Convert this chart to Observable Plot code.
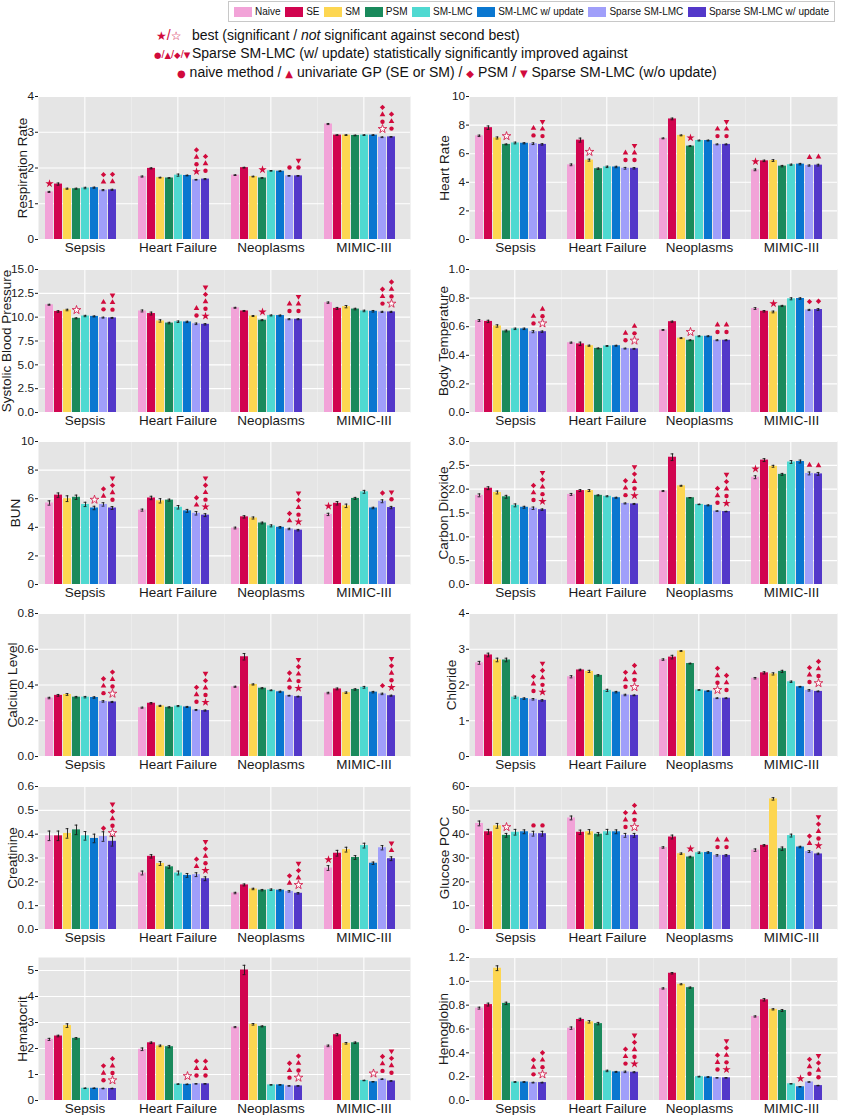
<!DOCTYPE html>
<html><head><meta charset="utf-8">
<script src="https://cdn.jsdelivr.net/npm/d3@7"></script>
<script src="https://cdn.jsdelivr.net/npm/@observablehq/plot@0.6"></script>
<style>
body{margin:0;background:#fff;font-family:"Liberation Sans",Arial,sans-serif;color:#111;}
#wrap{position:relative;width:845px;height:1115px;overflow:hidden;}
.panel{position:absolute;}
.panel svg{overflow:visible;}
g[aria-label="fx-axis tick label"]{font-size:13.5px;}
g[aria-label="y-axis label"]{font-size:13.5px;}
#legend{position:absolute;left:228px;top:1px;width:607px;height:21px;border:1px solid #c8c8c8;display:flex;align-items:center;justify-content:space-between;font-size:10px;box-sizing:border-box;padding:0 5px;}
#legend .it{display:flex;align-items:center;white-space:nowrap;flex:none;}
#legend .sw{display:inline-block;width:18px;height:10px;margin-right:3px;}
.ann{position:absolute;font-size:14px;white-space:nowrap;line-height:16px;}
.red{color:#d10a3c;}
.rs{color:#d10a3c;font-size:11px;}
.g{color:#d10a3c;font-family:"DejaVu Sans",sans-serif;font-size:10px;}
.g2{color:#d10a3c;font-family:"DejaVu Sans",sans-serif;font-size:8.5px;}
.gs{color:#d10a3c;font-family:"DejaVu Sans",sans-serif;font-size:12px;}
</style></head>
<body><div id="wrap">
<div id="legend"></div>
<div class="ann" style="left:156px;top:27px;"><span class="gs">★</span><span class="red">/</span><span class="gs">☆</span></div>
<div class="ann" style="left:192px;top:27px;">best (significant / <i>not</i> significant against second best)</div>
<div class="ann" style="left:154px;top:45px;"><span class="g2">●</span><span class="rs">/</span><span class="g2">▲</span><span class="rs">/</span><span class="g2">◆</span><span class="rs">/</span><span class="g2">▼</span></div>
<div class="ann" style="left:192px;top:45px;">Sparse SM-LMC (w/ update) statistically significantly improved against</div>
<div class="ann" style="left:177px;top:64px;"><span class="g">●</span> naive method / <span class="g">▲</span> univariate GP (SE or SM) / <span class="g">◆</span> PSM / <span class="g">▼</span> Sparse SM-LMC (w/o update)</div>
</div>
<script>
const groups = ["Sepsis", "Heart Failure", "Neoplasms", "MIMIC-III"];
const methods = ["Naive", "SE", "SM", "PSM", "SM-LMC", "SM-LMC w/ update", "Sparse SM-LMC", "Sparse SM-LMC w/ update"];
const methodColors = ["#f2a3d8", "#d1044f", "#fdd651", "#1a8a5c", "#4fd9d1", "#0a77d0", "#a09ffa", "#5338c9"];

// significance codes per bar, bottom to top: S filled star, s hollow star, o circle, t up triangle, d diamond, v down triangle
const respirationRate = [[1.33,1.55,1.42,1.42,1.44,1.45,1.38,1.39],[1.76,1.99,1.73,1.72,1.80,1.79,1.67,1.69],[1.80,2.01,1.76,1.72,1.92,1.91,1.78,1.78],[3.23,2.92,2.92,2.91,2.92,2.92,2.86,2.87]];
const respirationRateErr = [[0.015,0.03,0.015,0.015,0.02,0.015,0.015,0.015],[0.015,0.015,0.01,0.01,0.03,0.01,0.01,0.015],[0.01,0.01,0.01,0.01,0.01,0.01,0.01,0.01],[0.015,0.01,0.01,0.01,0.01,0.01,0.01,0.01]];
const respirationRateSig = [["S","","","","","","td","td"],["","","","","","","Sotd","otd"],["","","","S","","","o","ov"],["","","","","","","sotd","otd"]];
const respirationRateTicks = [0,1,2,3,4];

const heartRate = [[7.25,7.82,7.10,6.65,6.75,6.73,6.70,6.65],[5.22,6.95,5.55,4.95,5.08,5.07,4.98,4.98],[7.07,8.43,7.28,6.53,6.92,6.92,6.65,6.65],[4.87,5.50,5.52,5.13,5.23,5.27,5.17,5.20]];
const heartRateErr = [[0.05,0.12,0.07,0.03,0.06,0.04,0.06,0.05],[0.06,0.14,0.07,0.05,0.05,0.05,0.06,0.05],[0.03,0.06,0.03,0.03,0.03,0.03,0.03,0.03],[0.06,0.05,0.06,0.05,0.04,0.05,0.04,0.06]];
const heartRateSig = [["","","","s","","","ot","otv"],["","","s","","","","ot","otv"],["","","","S","","","ot","otv"],["S","","","","","","t","t"]];
const heartRateTicks = [0,2,4,6,8,10];

const systolicBP = [[11.30,10.60,10.75,9.88,10.12,10.08,9.95,9.92],[10.65,10.38,9.60,9.38,9.52,9.50,9.30,9.25],[10.98,10.65,10.12,9.68,10.18,10.17,9.78,9.78],[11.52,10.92,11.10,10.85,10.65,10.62,10.55,10.55]];
const systolicBPErr = [[0.05,0.08,0.08,0.05,0.07,0.05,0.05,0.05],[0.1,0.15,0.12,0.08,0.08,0.07,0.08,0.07],[0.05,0.05,0.05,0.05,0.05,0.05,0.05,0.05],[0.07,0.1,0.12,0.08,0.08,0.08,0.06,0.06]];
const systolicBPSig = [["","","","s","","","ot","otv"],["","","","","","","ot","Sotdv"],["","","","S","","","ot","otv"],["","","","","","","otd","sotd"]];
const systolicBPTicks = [0,2.5,5,7.5,10,12.5,15];

const bodyTemp = [[0.643,0.637,0.605,0.570,0.585,0.585,0.565,0.565],[0.488,0.480,0.467,0.448,0.465,0.467,0.447,0.445],[0.577,0.635,0.520,0.505,0.533,0.533,0.505,0.505],[0.727,0.708,0.703,0.745,0.795,0.797,0.717,0.720]];
const bodyTempErr = [[0.006,0.008,0.008,0.006,0.005,0.005,0.007,0.005],[0.004,0.012,0.004,0.003,0.003,0.003,0.003,0.003],[0.003,0.004,0.003,0.003,0.003,0.003,0.003,0.003],[0.006,0.005,0.006,0.004,0.007,0.005,0.004,0.006]];
const bodyTempSig = [["","","","","","","ot","sot"],["","","","","","","ot","sot"],["","","","s","","","ot","ot"],["","","S","","","","d","d"]];
const bodyTempTicks = [0,0.2,0.4,0.6,0.8,1.0];

const bun = [[5.70,6.25,6.00,6.10,5.60,5.35,5.60,5.35],[5.20,6.05,5.85,5.90,5.40,5.15,4.98,4.85],[3.95,4.73,4.65,4.30,4.10,4.00,3.88,3.80],[4.90,5.68,5.50,6.02,6.48,5.35,5.82,5.38]];
const bunErr = [[0.15,0.15,0.2,0.15,0.15,0.12,0.12,0.1],[0.07,0.12,0.15,0.07,0.12,0.1,0.12,0.1],[0.06,0.08,0.07,0.06,0.07,0.05,0.05,0.05],[0.08,0.12,0.12,0.07,0.1,0.05,0.1,0.08]];
const bunSig = [["","","","","","s","td","otdv"],["","","","","","","td","Sotdv"],["","","","","","","td","Sotdv"],["S","","","","","","d","ov"]];
const bunTicks = [0,2,4,6,8,10];

const carbonDioxide = [[1.87,2.02,1.93,1.84,1.66,1.62,1.60,1.57],[1.89,1.97,1.97,1.87,1.85,1.82,1.70,1.69],[1.96,2.67,2.07,1.82,1.68,1.66,1.54,1.53],[2.25,2.61,2.48,2.31,2.57,2.58,2.33,2.32]];
const carbonDioxideErr = [[0.03,0.03,0.03,0.03,0.03,0.02,0.025,0.015],[0.02,0.02,0.02,0.01,0.01,0.01,0.01,0.01],[0.01,0.07,0.01,0.005,0.005,0.01,0.005,0.005],[0.03,0.03,0.02,0.02,0.03,0.03,0.03,0.03]];
const carbonDioxideSig = [["","","","","","","otd","Sotdv"],["","","","","","","otd","Sotdv"],["","","","","","","otd","Sotdv"],["S","","","","","","t","t"]];
const carbonDioxideTicks = [0,0.5,1,1.5,2,2.5,3];

const calcium = [[0.327,0.342,0.347,0.332,0.332,0.330,0.308,0.305],[0.273,0.298,0.283,0.275,0.282,0.277,0.260,0.257],[0.390,0.558,0.403,0.382,0.370,0.362,0.340,0.335],[0.355,0.378,0.357,0.375,0.387,0.360,0.350,0.340]];
const calciumErr = [[0.004,0.005,0.005,0.004,0.004,0.004,0.004,0.003],[0.003,0.004,0.003,0.003,0.003,0.003,0.003,0.003],[0.003,0.018,0.003,0.003,0.002,0.003,0.002,0.002],[0.004,0.005,0.004,0.004,0.005,0.004,0.004,0.003]];
const calciumSig = [["","","","","","","otd","sotd"],["","","","","","","otd","Sotdv"],["","","","","","","otd","Sotdv"],["","","","","","","d","Sotdv"]];
const calciumTicks = [0,0.2,0.4,0.6,0.8];

const chloride = [[2.62,2.84,2.70,2.70,1.66,1.62,1.60,1.57],[2.23,2.42,2.38,2.27,1.85,1.80,1.72,1.71],[2.71,2.78,2.95,2.60,1.86,1.83,1.63,1.63],[2.19,2.34,2.31,2.38,2.09,1.95,1.85,1.82]];
const chlorideErr = [[0.04,0.05,0.05,0.05,0.03,0.02,0.02,0.02],[0.03,0.02,0.03,0.02,0.03,0.02,0.02,0.01],[0.02,0.05,0.01,0.01,0.01,0.01,0.01,0.01],[0.02,0.03,0.03,0.03,0.02,0.01,0.02,0.01]];
const chlorideSig = [["","","","","","","otd","Sotdv"],["","","","","","","otd","sotd"],["","","","","","","sotd","otd"],["","","","","","","otd","sotd"]];
const chlorideTicks = [0,1,2,3,4];

const creatinine = [[0.393,0.393,0.403,0.418,0.393,0.382,0.390,0.370],[0.237,0.307,0.277,0.263,0.237,0.227,0.230,0.213],[0.153,0.187,0.170,0.165,0.167,0.165,0.160,0.152],[0.258,0.320,0.335,0.302,0.352,0.278,0.343,0.297]];
const creatinineErr = [[0.02,0.02,0.02,0.02,0.018,0.018,0.02,0.02],[0.008,0.007,0.008,0.006,0.008,0.008,0.008,0.008],[0.003,0.004,0.003,0.003,0.003,0.003,0.003,0.003],[0.01,0.012,0.01,0.008,0.01,0.005,0.009,0.008]];
const creatinineSig = [["","","","","","","d","sotdv"],["","","","","","","td","Sotdv"],["","","","","","","td","stdv"],["S","","","","","","","tv"]];
const creatinineTicks = [0,0.1,0.2,0.3,0.4,0.5,0.6];

const glucose = [[44.5,41.0,43.5,39.5,40.8,41.0,40.2,40.2],[46.8,40.8,41.0,40.0,41.0,41.0,39.5,39.5],[34.4,38.8,31.8,30.4,32.2,32.3,31.1,31.1],[33.3,35.3,54.8,33.9,39.4,34.6,32.7,31.7]];
const glucoseErr = [[1,1,1,0.8,1.2,0.8,1,1],[0.8,0.9,0.9,0.7,1,0.8,0.8,0.8],[0.3,0.8,0.3,0.3,0.3,0.3,0.3,0.3],[0.5,0.3,0.5,0.7,0.6,0.3,0.4,0.3]];
const glucoseSig = [["","","","s","","","o","o"],["","","","","","","otd","sotd"],["","","","S","","","ot","ot"],["","","","","","","td","Sotdv"]];
const glucoseTicks = [0,10,20,30,40,50,60];

const hematocrit = [[2.35,2.48,2.88,2.39,0.47,0.47,0.46,0.46],[1.97,2.22,2.10,2.07,0.63,0.62,0.64,0.64],[2.82,5.02,2.93,2.85,0.60,0.60,0.56,0.56],[2.10,2.53,2.20,2.22,0.77,0.72,0.82,0.75]];
const hematocritErr = [[0.04,0.03,0.07,0.03,0.01,0.01,0.01,0.01],[0.05,0.03,0.03,0.04,0.01,0.01,0.01,0.01],[0.02,0.18,0.03,0.02,0.01,0.01,0.01,0.01],[0.03,0.04,0.03,0.03,0.01,0.01,0.01,0.01]];
const hematocritSig = [["","","","","","","otd","sotd"],["","","","","","s","otd","otd"],["","","","","","","otd","sotd"],["","","","","","s","otd","otdv"]];
const hematocritTicks = [0,1,2,3,4,5];

const hemoglobin = [[0.775,0.805,1.110,0.815,0.155,0.155,0.150,0.150],[0.607,0.680,0.660,0.645,0.248,0.240,0.240,0.237],[0.940,1.068,0.975,0.947,0.200,0.197,0.190,0.190],[0.705,0.845,0.765,0.755,0.140,0.115,0.155,0.125]];
const hemoglobinErr = [[0.008,0.012,0.02,0.01,0.003,0.003,0.003,0.003],[0.01,0.01,0.01,0.01,0.006,0.004,0.006,0.004],[0.005,0.006,0.004,0.005,0.003,0.003,0.002,0.002],[0.005,0.01,0.005,0.008,0.002,0.002,0.002,0.002]];
const hemoglobinSig = [["","","","","","","otd","sotd"],["","","","","","","otd","Sotdv"],["","","","","","","otd","Sotdv"],["","","","","","S","otd","otdv"]];
const hemoglobinTicks = [0,0.2,0.4,0.6,0.8,1.0,1.2];

const panels = [
  {label: "Respiration Rate", values: respirationRate, errors: respirationRateErr, sig: respirationRateSig, yMax: 4, ticks: respirationRateTicks, fmt: "d", off: 21},
  {label: "Heart Rate", values: heartRate, errors: heartRateErr, sig: heartRateSig, yMax: 10, ticks: heartRateTicks, fmt: "d", off: 30},
  {label: "Systolic Blood Pressure", values: systolicBP, errors: systolicBPErr, sig: systolicBPSig, yMax: 15, ticks: systolicBPTicks, fmt: ".1f", off: 37},
  {label: "Body Temperature", values: bodyTemp, errors: bodyTempErr, sig: bodyTempSig, yMax: 1, ticks: bodyTempTicks, fmt: ".1f", off: 31},
  {label: "BUN", values: bun, errors: bunErr, sig: bunSig, yMax: 10, ticks: bunTicks, fmt: "d", off: 28},
  {label: "Carbon Dioxide", values: carbonDioxide, errors: carbonDioxideErr, sig: carbonDioxideSig, yMax: 3, ticks: carbonDioxideTicks, fmt: ".1f", off: 31},
  {label: "Calcium Level", values: calcium, errors: calciumErr, sig: calciumSig, yMax: 0.8, ticks: calciumTicks, fmt: ".1f", off: 31},
  {label: "Chloride", values: chloride, errors: chlorideErr, sig: chlorideSig, yMax: 4, ticks: chlorideTicks, fmt: "d", off: 23},
  {label: "Creatinine", values: creatinine, errors: creatinineErr, sig: creatinineSig, yMax: 0.6, ticks: creatinineTicks, fmt: ".1f", off: 31},
  {label: "Glucose POC", values: glucose, errors: glucoseErr, sig: glucoseSig, yMax: 60, ticks: glucoseTicks, fmt: "d", off: 30},
  {label: "Hematocrit", values: hematocrit, errors: hematocritErr, sig: hematocritSig, yMax: 5.5, ticks: hematocritTicks, fmt: "d", off: 21},
  {label: "Hemoglobin", values: hemoglobin, errors: hemoglobinErr, sig: hemoglobinSig, yMax: 1.2, ticks: hemoglobinTicks, fmt: ".1f", off: 31}
];

const RED = "#d10a3c";
const BG = "#e5e5e5";
const PAD_IN = 0.1, PAD_OUT = 0.95, ALIGN = 0.3;
const rowPlotTops = [96, 269, 441, 613, 786, 957];

const triangleDown = {
  draw(context, size) {
    const y = -Math.sqrt(size / (Math.sqrt(3) * 3));
    context.moveTo(0, -y * 2);
    context.lineTo(-Math.sqrt(3) * y, y);
    context.lineTo(Math.sqrt(3) * y, y);
    context.closePath();
  }
};
const SIG = {
  S: {symbol: "star", r: 2.6, fill: RED},
  s: {symbol: "star", r: 2.7, fill: "white", stroke: RED, strokeWidth: 0.8},
  o: {symbol: "circle", r: 2.2, fill: RED},
  t: {symbol: "triangle", r: 2.1, fill: RED},
  d: {symbol: "diamond2", r: 2.4, fill: RED},
  v: {symbol: triangleDown, r: 2.1, fill: RED}
};

// legend
const legend = document.getElementById("legend");
methods.forEach((m, i) => {
  const it = document.createElement("span");
  it.className = "it";
  it.innerHTML = `<span class="sw" style="background:${methodColors[i]}"></span>${m}`;
  legend.appendChild(it);
});

function drawPanel(p, col, row) {
  const W = col === 0 ? 420 : 425;
  const mL = col === 0 ? 38 : 48;
  const mR = col === 0 ? 10 : 7;
  const mT = 8, mB = 25, H = mT + 143 + mB;
  const bars = [];
  groups.forEach((g, gi) => methods.forEach((m, mi) => bars.push({group: g, method: m, value: p.values[gi][mi], err: p.errors[gi][mi]})));
  const sig = [];
  groups.forEach((g, gi) => p.sig[gi].forEach((code, mi) => [...code].forEach((type, level) => sig.push({group: g, method: methods[mi], value: p.values[gi][mi], type, level}))));
  const facetW = (W - mL - mR) / groups.length;
  const xb = d3.scaleBand(methods, [0, facetW]).paddingInner(PAD_IN).paddingOuter(PAD_OUT).align(ALIGN);
  const centerDx = facetW / 2 - (xb("PSM") + xb.bandwidth() / 2);
  const eb = {stroke: "#1a1a1a", strokeWidth: 0.9};
  const marks = [
    Plot.frame({fill: BG, stroke: "none"}),
    Plot.ruleY(p.ticks, {stroke: "white", strokeWidth: 1.1}),
    Plot.ruleX(["PSM"], {x: d => d, dx: centerDx, stroke: "white", strokeWidth: 1.1}),
    Plot.barY(bars, {fx: "group", x: "method", y: "value", fill: "method"}),
    Plot.ruleX(bars, {fx: "group", x: "method", y1: d => d.value - d.err, y2: d => d.value + d.err, ...eb}),
    Plot.tickY(bars, {fx: "group", x: "method", y: d => d.value + d.err, insetLeft: 2.6, insetRight: 2.6, ...eb}),
    Plot.tickY(bars, {fx: "group", x: "method", y: d => d.value - d.err, insetLeft: 2.6, insetRight: 2.6, ...eb})
  ];
  for (let level = 0; level < 5; level++) {
    for (const [t, st] of Object.entries(SIG)) {
      const data = sig.filter(d => d.level === level && d.type === t);
      if (data.length) marks.push(Plot.dot(data, {fx: "group", x: "method", y: "value", dy: -(8.3 + 7.2 * level), ...st}));
    }
  }
  const chart = Plot.plot({
    width: W, height: H, marginLeft: mL, marginRight: mR, marginTop: mT, marginBottom: mB,
    style: {fontFamily: "Liberation Sans, Arial, sans-serif", fontSize: "11.8px", color: "#1a1a1a", background: "none", overflow: "visible"},
    fx: {domain: groups, padding: 0, axis: "bottom", label: null, tickSize: 0, tickPadding: 3},
    x: {domain: methods, axis: null, paddingInner: PAD_IN, paddingOuter: PAD_OUT, align: ALIGN},
    y: {domain: [0, p.yMax], ticks: p.ticks, tickFormat: p.fmt, tickSize: 3, tickPadding: 1.5, label: p.label, labelAnchor: "center", labelOffset: p.off, labelArrow: "none"},
    color: {domain: methods, range: methodColors},
    marks
  });
  const div = document.createElement("div");
  div.className = "panel";
  div.style.left = (col === 0 ? 0 : 420) + "px";
  div.style.top = (rowPlotTops[row] - mT) + "px";
  div.appendChild(chart);
  document.getElementById("wrap").appendChild(div);
}

panels.forEach((p, i) => drawPanel(p, i % 2, Math.floor(i / 2)));
</script>
</body></html>
